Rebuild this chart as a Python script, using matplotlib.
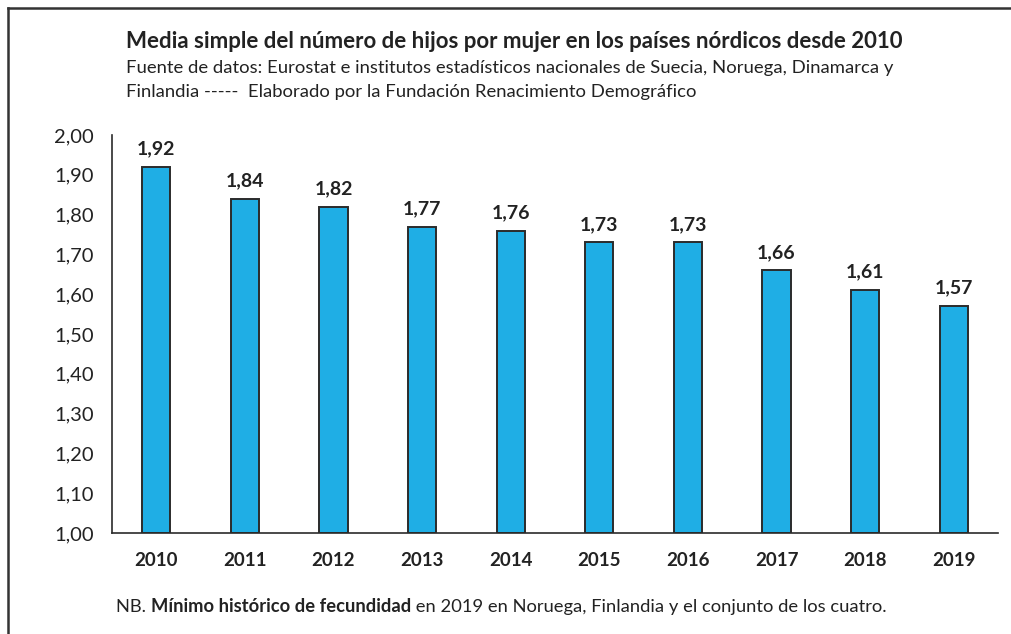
import matplotlib.pyplot as plt
from matplotlib.lines import Line2D

years = ['2010', '2011', '2012', '2013', '2014', '2015', '2016', '2017', '2018', '2019']
values = [1.92, 1.84, 1.82, 1.77, 1.76, 1.73, 1.73, 1.66, 1.61, 1.57]
y_ticks = [1.0, 1.1, 1.2, 1.3, 1.4, 1.5, 1.6, 1.7, 1.8, 1.9, 2.0]

title = 'Media simple del número de hijos por mujer en los países nórdicos desde 2010'
subtitle_lines = ['Fuente de datos: Eurostat e institutos estadísticos nacionales de Suecia, Noruega, Dinamarca y',
                  'Finlandia -----  Elaborado por la Fundación Renacimiento Demográfico']
note_parts = [('NB. ', 'normal'), ('Mínimo histórico de fecundidad', 'bold'),
              (' en 2019 en Noruega, Finlandia y el conjunto de los cuatro.', 'normal')]

plt.rcParams['font.family'] = ['Lato', 'DejaVu Sans']
W, H = 1012, 634
fig = plt.figure(figsize=(W / 100, H / 100), dpi=100)
fig.patch.set_facecolor('white')

# axes in pixel coords: left 112, right 998, top 135, bottom 533
ax = fig.add_axes([112 / W, 1 - 533 / H, (998 - 112) / W, (533 - 135) / H])
x = range(len(years))
ax.bar(x, [v - 1.0 for v in values], bottom=1.0, width=0.32,
       color='#1FAEE5', edgecolor='#2b2b2b', linewidth=1.4, zorder=2)
for i, v in enumerate(values):
    ax.text(i, v + 0.024, f'{v:.2f}'.replace('.', ','), ha='center', va='bottom',
            fontsize=14, fontweight='bold', color='#222222')

ax.set_xlim(-0.5, len(years) - 0.5)
ax.set_ylim(1.0, 2.0)
ax.set_yticks(y_ticks)
ax.set_yticklabels([f'{t:.2f}'.replace('.', ',') for t in y_ticks], fontsize=14.5, color='#222222')
ax.set_xticks(list(x))
ax.set_xticklabels(years, fontsize=13.5, fontweight='bold', color='#222222')
ax.tick_params(axis='y', length=0, pad=13)
ax.tick_params(axis='x', length=0, pad=14)
for s in ['top', 'right']:
    ax.spines[s].set_visible(False)
for s in ['left', 'bottom']:
    ax.spines[s].set_color('#2b2b2b')
    ax.spines[s].set_linewidth(1.2)

# titles
fig.text(126 / W, 1 - 42 / H, title, fontsize=16, fontweight='bold', color='#222222',
         ha='left', va='center')
for k, line in enumerate(subtitle_lines):
    fig.text(126 / W, 1 - (68 + 24 * k) / H, line, fontsize=13.3, color='#222222',
             ha='left', va='center')

# footnote with mixed weights
fig.canvas.draw()
renderer = fig.canvas.get_renderer()
xpos = 116
for txt, weight in note_parts:
    t = fig.text(xpos / W, 1 - 607 / H, txt, fontsize=13.2, fontweight=weight,
                 color='#222222', ha='left', va='center')
    bb = t.get_window_extent(renderer=renderer)
    xpos += bb.width

# frame lines (top and left)
fig.add_artist(Line2D([8 / W, 1.0], [1 - 8 / H, 1 - 8 / H], color='#333333', linewidth=1.8,
                      transform=fig.transFigure))
fig.add_artist(Line2D([8 / W, 8 / W], [1 - 8 / H, 0.0], color='#333333', linewidth=1.8,
                      transform=fig.transFigure))

fig.savefig('out.png', dpi=100, facecolor='white')
